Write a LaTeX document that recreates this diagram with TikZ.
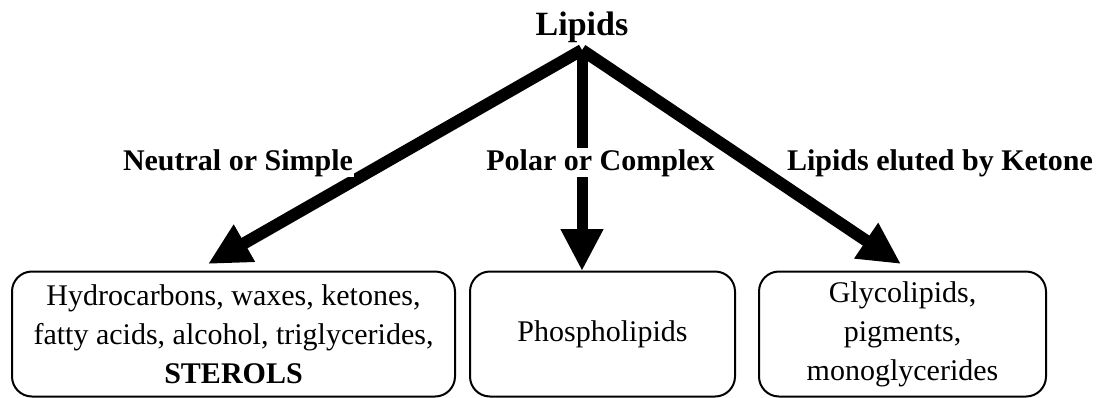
\documentclass[tikz,border=0pt]{standalone}
\usepackage{fontspec}
\setmainfont{Liberation Serif}
\usetikzlibrary{arrows.meta}

\tikzstyle{groupbox}=[
    draw,
    line width=2pt,
    rounded corners=20pt,
    align=center,
    minimum height=125pt,
    font=\fontsize{30}{39}\selectfont,
  ]
\tikzstyle{branch}=[
    -{Triangle[length=42pt,width=40pt]},
    line width=12pt,
  ]
\tikzstyle{kind}=[
    fill=white,
    inner sep=1pt,
    anchor=base,
    font=\fontsize{30}{36}\selectfont\bfseries,
  ]

\begin{document}
\begin{tikzpicture}[x=1pt,y=-1pt]
      \useasboundingbox (0,0) rectangle (1106,397);
      \node[font=\fontsize{34}{40}\selectfont\bfseries, anchor=base] (lipids) at (582,35) {Lipids};
      \coordinate (top) at (582,50);
      \node[groupbox, minimum width=443pt] (simple) at (233.5,334)
        {Hydrocarbons, waxes, ketones,\\fatty acids, alcohol, triglycerides,\\\textbf{STEROLS}};
      \node[groupbox, minimum width=265pt] (complex) at (602.5,334) {Phospholipids};
      \node[groupbox, minimum width=287pt] (ketone) at (902.5,334)
        {Glycolipids,\\pigments,\\monoglycerides};
      \coordinate (tipa) at (208,264);
      \coordinate (tipb) at (582,271);
      \coordinate (tipc) at (901,264);
      \draw[branch] (top) to (tipa);
      \draw[branch, line width=11pt] (top) to (tipb);
      \draw[branch] (top) to (tipc);
      \node[kind] (neutral) at (238,170) {Neutral or Simple};
      \node[kind] (polar) at (600.5,170) {Polar or Complex};
      \node[kind] (eluted) at (940,170) {Lipids eluted by Ketone};
    \end{tikzpicture}
\end{document}
